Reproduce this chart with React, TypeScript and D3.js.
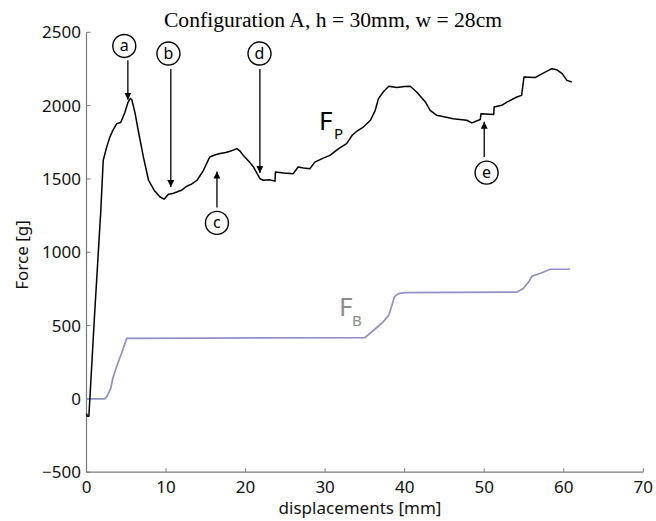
import React from "react";
import * as d3 from "d3";

const fpX = [0, 0.1, 0.3, 1.0, 1.8, 2.1, 2.5, 2.9, 3.3, 3.8, 4.3, 4.8, 5.2, 5.5, 5.7, 6.1, 6.5, 7.15, 7.8, 8.5, 9.25, 9.75, 10.3, 10.8, 11.35, 12.0, 12.6, 13.2, 13.9, 14.7, 15.5, 16.2, 16.8, 17.5, 18.05, 18.6, 18.9, 19.3, 19.7, 20.4, 21.0, 21.8, 22.2, 23.0, 23.7, 23.75, 24.8, 26.0, 26.6, 27.3, 28.1, 28.7, 29.7, 30.6, 31.7, 32.7, 33.4, 34.1, 34.8, 35.7, 36.3, 36.7, 37.3, 38.0, 39.0, 40.0, 40.7, 41.5, 42.6, 43.2, 44.0, 44.5, 46.1, 47.8, 48.45, 49.5, 49.6, 51.2, 51.25, 52.2, 52.9, 54.1, 54.7, 55.0, 56.4, 57.3, 58.5, 59.1, 59.8, 60.4, 61.0];
const fpY = [-100, -118, -118, 560, 1285, 1626, 1710, 1780, 1830, 1877, 1885, 1950, 2020, 2050, 2040, 1950, 1832, 1650, 1491, 1423, 1377, 1362, 1395, 1400, 1411, 1425, 1450, 1465, 1491, 1559, 1650, 1665, 1673, 1680, 1689, 1700, 1707, 1690, 1661, 1620, 1581, 1502, 1491, 1495, 1485, 1547, 1540, 1536, 1581, 1575, 1570, 1615, 1640, 1661, 1707, 1741, 1798, 1830, 1854, 1900, 1968, 2048, 2093, 2132, 2123, 2130, 2132, 2093, 2025, 1968, 1935, 1929, 1911, 1900, 1882, 1905, 1945, 1939, 1991, 2002, 2025, 2059, 2070, 2195, 2191, 2218, 2252, 2245, 2218, 2172, 2161];

const fbX = [0, 2.3, 2.55, 3.05, 3.3, 3.7, 4.4, 5.05, 15, 35.0, 36.1, 37.3, 38.0, 38.4, 38.7, 39.2, 40, 54.1, 54.9, 55.6, 56.0, 57.0, 58.3, 60.8];
const fbY = [0, 0, 14, 71, 139, 207, 309, 412, 415, 418, 468, 525, 571, 639, 695, 718, 725, 728, 752, 798, 836, 855, 884, 884];

const xTicks = [0, 10, 20, 30, 40, 50, 60, 70];
const yTicks = [-500, 0, 500, 1000, 1500, 2000, 2500];

// annotations: letter, x (mm), circle y (g), arrow start (g), arrow end (g)
const annLetters = ["a", "b", "c", "d", "e"];
const annCircleX = [4.75, 10.3, 16.4, 21.75, 50.3];
const annArrowX = [5.2, 10.6, 16.4, 21.8, 50.0];
const annCircleY = [2407, 2355, 1200, 2355, 1543];
const annArrowFrom = [2310, 2250, 1305, 2250, 1650];
const annArrowTo = [2040, 1445, 1550, 1540, 1890];

const SANS = "'Noto Sans', 'Open Sans', sans-serif";

export default function App() {
  const W = 656, H = 521;
  const x = d3.scaleLinear().domain([0, 70]).range([86.5, 643.3]);
  const y = d3.scaleLinear().domain([-500, 2500]).range([472.2, 32.3]);
  const mk = (xs: number[], ys: number[]) =>
    d3.line<number>().x((i) => x(xs[i])).y((i) => y(ys[i]))(xs.map((_, i) => i)) || "";
  const axisColor = "#7a7a7a";
  return (
    <svg width={W} height={H} style={{ position: "absolute", left: 0, top: 0, background: "#fff" }}>
      <defs>
        <marker id="arr" viewBox="0 0 10 10" refX="10" refY="5" markerWidth="7" markerHeight="7" orient="auto-start-reverse" markerUnits="userSpaceOnUse">
          <path d="M0,0 L10,5 L0,10 z" fill="#000" />
        </marker>
      </defs>
      <text x={333} y={27} textAnchor="middle" fontFamily="'Liberation Serif', 'Times New Roman', serif" fontSize={21.6}>
        Configuration A, h = 30mm, w = 28cm
      </text>
      {/* axes */}
      <line x1={x(0)} x2={x(0)} y1={y(2500)} y2={y(-500)} stroke={axisColor} strokeWidth={1.2} />
      <line x1={x(0)} x2={x(70)} y1={y(-500)} y2={y(-500)} stroke={axisColor} strokeWidth={1.2} />
      {yTicks.map((t) => (
        <g key={"y" + t}>
          <line x1={x(0)} x2={x(0) + 4} y1={y(t)} y2={y(t)} stroke={axisColor} strokeWidth={1} />
          <text x={81} y={y(t) + 6} textAnchor="end" fontFamily={SANS} fontSize={17} fill="#111">
            {t < 0 ? "\u2212" + Math.abs(t) : t}
          </text>
        </g>
      ))}
      {xTicks.map((t) => (
        <g key={"x" + t}>
          <line x1={x(t)} x2={x(t)} y1={y(-500)} y2={y(-500) - 4} stroke={axisColor} strokeWidth={1} />
          <text x={x(t)} y={493} textAnchor="middle" fontFamily={SANS} fontSize={17} fill="#111">
            {t}
          </text>
        </g>
      ))}
      <text x={360} y={514} textAnchor="middle" fontFamily={SANS} fontSize={17} fill="#111">
        displacements [mm]
      </text>
      <text transform={`translate(28,255) rotate(-90)`} textAnchor="middle" fontFamily={SANS} fontSize={17} fill="#111">
        Force [g]
      </text>
      {/* series */}
      <path d={mk(fbX, fbY)} fill="none" stroke="#9090c4" strokeWidth={1.7} />
      <path d={mk(fpX, fpY)} fill="none" stroke="#000" strokeWidth={1.5} strokeLinejoin="round" />
      {/* labels */}
      <text x={319} y={130} fontFamily={SANS} fontSize={26} fill="#000">F</text>
      <text x={334} y={139} fontFamily={SANS} fontSize={15} fill="#000">P</text>
      <text x={339} y={316} fontFamily={SANS} fontSize={26} fill="#8c8c8c">F</text>
      <text x={352} y={326} fontFamily={SANS} fontSize={15} fill="#8c8c8c">B</text>
      {/* annotations */}
      {annLetters.map((l, i) => (
        <g key={l}>
          <circle cx={x(annCircleX[i])} cy={y(annCircleY[i])} r={11.5} fill="none" stroke="#000" strokeWidth={1.4} />
          <text x={x(annCircleX[i])} y={y(annCircleY[i]) + 5} textAnchor="middle" fontFamily={SANS} fontSize={16} fill="#000">{l}</text>
          <line x1={x(annArrowX[i])} x2={x(annArrowX[i])} y1={y(annArrowFrom[i])} y2={y(annArrowTo[i])} stroke="#000" strokeWidth={1.3} markerEnd="url(#arr)" />
        </g>
      ))}
    </svg>
  );
}
